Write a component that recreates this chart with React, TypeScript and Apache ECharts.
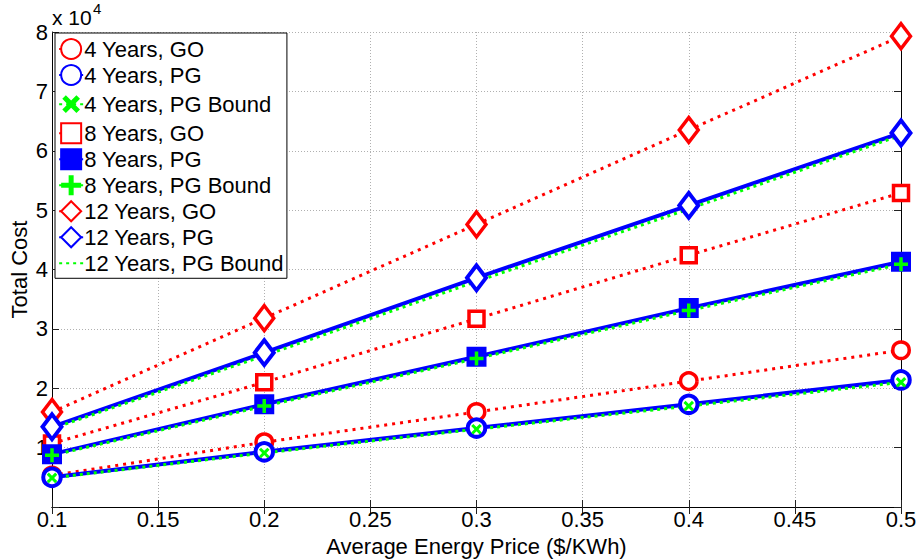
import React, { useEffect, useRef } from "react";
import * as echarts from "echarts";

const prices = [0.1, 0.2, 0.3, 0.4, 0.5];
const go4 = [5300, 10900, 16000, 21200, 26400];
const pg4 = [5000, 9300, 13300, 17300, 21400];
const bd4 = [4900, 9100, 13100, 17000, 21000];
const go8 = [10700, 21000, 31700, 42400, 52900];
const pg8 = [8900, 17300, 25300, 33500, 41300];
const bd8 = [8700, 17000, 25000, 33100, 40900];
const go12 = [16000, 31800, 47600, 63500, 79300];
const pg12 = [13500, 26000, 38600, 50800, 63000];
const bd12 = [13200, 25500, 38000, 50200, 62600];

const FONT = "Liberation Sans";
const FS = 22;
const RED = "#ff0000";
const BLUE = "#0000ff";
const GREEN = "#00ff00";
const PLUS = "path://M-1,-4H1V-1H4V1H1V4H-1V1H-4V-1H-1Z";

const pts = (ys: number[]) => prices.map((x, i) => [x, ys[i]]);

export default function App() {
  const ref = useRef<HTMLDivElement>(null);
  useEffect(() => {
    if (!ref.current) return;
    const chart = echarts.init(ref.current, null, { renderer: "svg" });
    const goStyle = (name: string, ys: number[], symbol: string, size: any) => ({
      name,
      type: "line",
      data: pts(ys),
      symbol,
      symbolSize: size,
      lineStyle: { color: RED, width: 3, type: [3, 5] },
      itemStyle: { color: "#ffffff", borderColor: RED, borderWidth: 3.5 },
    });
    const pgStyle = (name: string, ys: number[], symbol: string, size: any, fill: string) => ({
      name,
      type: "line",
      data: pts(ys),
      symbol,
      symbolSize: size,
      lineStyle: { color: BLUE, width: 4, type: "solid" },
      itemStyle: { color: fill, borderColor: BLUE, borderWidth: 4 },
    });
    const bdStyle = (name: string, ys: number[], symbol: string, size: number, rot: number, fill: string) => ({
      name,
      type: "line",
      data: pts(ys),
      symbol,
      symbolSize: size,
      symbolRotate: rot,
      lineStyle: { color: GREEN, width: 3, type: [3, 4] },
      itemStyle: { color: fill, borderWidth: 0 },
    });
    const series = [
      goStyle("4 Years, GO", go4, "circle", 16.5),
      pgStyle("4 Years, PG", pg4, "circle", 17.5, "#ffffff"),
      bdStyle("4 Years, PG Bound", bd4, PLUS, 12, 45, GREEN),
      goStyle("8 Years, GO", go8, "rect", 15),
      pgStyle("8 Years, PG", pg8, "rect", 16, BLUE),
      bdStyle("8 Years, PG Bound", bd8, PLUS, 14, 0, GREEN),
      goStyle("12 Years, GO", go12, "diamond", [19, 25]),
      pgStyle("12 Years, PG", pg12, "diamond", [19, 25], "#ffffff"),
      bdStyle("12 Years, PG Bound", bd12, "none", 1, 0, "rgba(0,0,0,0)"),
    ];
    const tickStyle = { inside: true, length: 7, lineStyle: { color: "#222", width: 1 } };
    const split = { show: true, lineStyle: { color: "#b0b0b0", width: 1, type: [1, 2] } };
    chart.setOption({
      animation: false,
      backgroundColor: "#ffffff",
      textStyle: { fontFamily: FONT },
      grid: { left: 52, right: 19, top: 32, bottom: 52, containLabel: false, outerBoundsMode: "none" },
      legend: {
        orient: "vertical",
        left: 55,
        top: 33,
        backgroundColor: "#ffffff",
        borderColor: "#000000",
        borderWidth: 1,
        padding: [5, 3, 4, 2],
        itemWidth: 24,
        itemHeight: 25,
        itemGap: 4,
        textStyle: { fontSize: FS, fontFamily: FONT, color: "#000", padding: [0, 0, 0, -4] },
        data: series.map((s) => s.name),
      },
      graphic: [
        { type: "text", left: 52, top: 7, style: { text: "x 10", fontSize: 21, fontFamily: FONT, fill: "#000" } },
        { type: "text", left: 93, top: 1, style: { text: "4", fontSize: 15, fontFamily: FONT, fill: "#000" } },
      ],
      xAxis: [
        {
          type: "value",
          min: 0.1,
          max: 0.5,
          interval: 0.05,
          name: "Average Energy Price ($/KWh)",
          nameLocation: "middle",
          nameGap: 29,
          nameMoveOverlap: false,
          nameTextStyle: { fontSize: FS, fontFamily: FONT, color: "#000", lineHeight: 20 },
          axisLine: { show: true, lineStyle: { color: "#000", width: 1 } },
          axisTick: tickStyle,
          axisLabel: {
            fontSize: FS,
            fontFamily: FONT,
            color: "#000",
            margin: 2,
            lineHeight: 20,
            formatter: (v: number) => String(+v.toFixed(2)),
          },
          splitLine: split,
        },
        {
          type: "value",
          position: "top",
          min: 0.1,
          max: 0.5,
          interval: 0.05,
          axisLine: { show: true, lineStyle: { color: "#000", width: 1 } },
          axisTick: tickStyle,
          axisLabel: { show: false },
          splitLine: { show: false },
        },
      ],
      yAxis: [
        {
          type: "value",
          min: 0,
          max: 80000,
          interval: 10000,
          name: "Total Cost",
          nameLocation: "middle",
          nameGap: 22,
          nameMoveOverlap: false,
          nameTextStyle: { fontSize: FS, fontFamily: FONT, color: "#000" },
          axisLine: { show: true, lineStyle: { color: "#000", width: 1 } },
          axisTick: tickStyle,
          axisLabel: {
            fontSize: FS,
            fontFamily: FONT,
            color: "#000",
            margin: 4,
            formatter: (v: number) => (v === 0 ? "" : String(v / 10000)),
          },
          splitLine: split,
        },
        {
          type: "value",
          position: "right",
          min: 0,
          max: 80000,
          interval: 10000,
          axisLine: { show: true, lineStyle: { color: "#000", width: 1 } },
          axisTick: tickStyle,
          axisLabel: { show: false },
          splitLine: { show: false },
        },
      ],
      series,
    });
    return () => chart.dispose();
  }, []);
  return <div ref={ref} style={{ width: 920, height: 559, position: "absolute", left: 0, top: 0 }} />;
}
